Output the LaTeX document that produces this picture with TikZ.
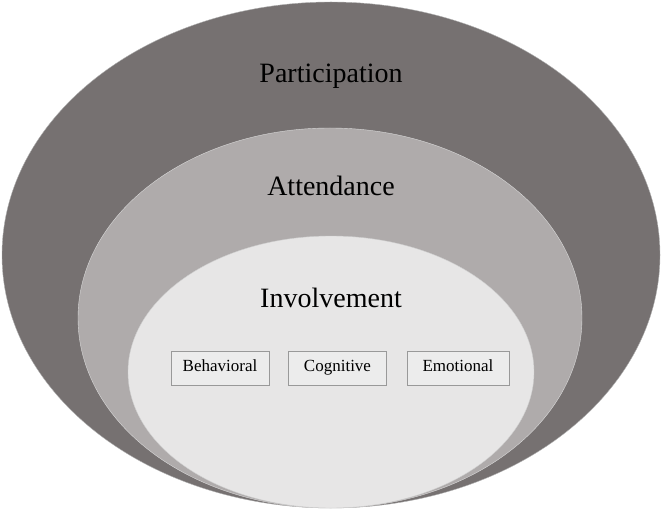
\documentclass[tikz,border=0pt]{standalone}
\usepackage{fontspec}
\setmainfont{Liberation Serif}
\begin{document}
\begin{tikzpicture}[x=1pt,y=-1pt,
  lbl/.style={font=\fontsize{28}{32}\selectfont},
  tag/.style={draw=gray!80,fill=gray!15,minimum width=98pt,minimum height=34pt,inner sep=0pt,text height=11pt,text depth=5pt,font=\fontsize{17}{20}\selectfont}]
\useasboundingbox (0,0) rectangle (661,510);
\definecolor{c1}{HTML}{767171}
\definecolor{c2}{HTML}{AFABAB}
\definecolor{c3}{HTML}{E7E6E6}
\fill[c1,draw=gray!60] (331,255) ellipse [x radius=329, y radius=253];
\fill[c2,draw=gray!30] (330,318) ellipse [x radius=252, y radius=190];
\fill[c3,draw=gray!40] (331,372) ellipse [x radius=203, y radius=136];
\node[lbl] (p) at (331,76) {Participation};
\node[lbl] (a) at (331,186) {Attendance};
\node[lbl] (i) at (331,298) {Involvement};
\node[tag] (b) at (220,368.5) {Behavioral};
\node[tag] (c) at (337.5,368.5) {Cognitive};
\node[tag,minimum width=102pt] (e) at (458,368.5) {Emotional};
\end{tikzpicture}
\end{document}
